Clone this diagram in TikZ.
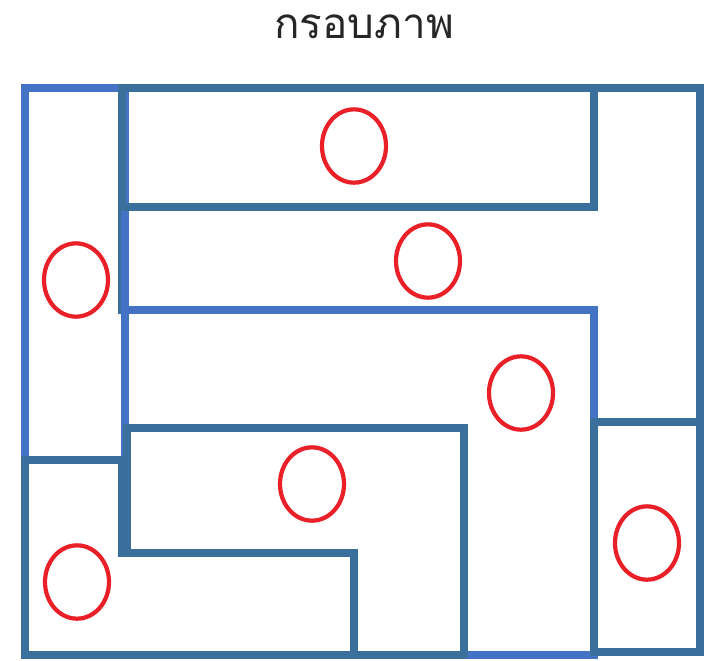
\documentclass[tikz,border=0pt]{standalone}
\usepackage{fontspec}
\newfontfamily\thaifont[Script=Thai]{Loma}
\usetikzlibrary{shapes.geometric}
\definecolor{frdark}{RGB}{60,112,156}
\definecolor{frlight}{RGB}{68,114,196}
\definecolor{ovred}{RGB}{234,32,40}
\begin{document}
\begin{tikzpicture}[x=0.03cm, y=-0.03cm,
  pd/.style={draw=frdark, line width=6.2pt},
  pl/.style={draw=frlight, line width=6.2pt},
  ov/.style={ellipse, draw=ovred, line width=3.6pt,
             minimum width=1.92cm, minimum height=2.2cm, inner sep=0pt}
]
\useasboundingbox (0,0) rectangle (704,660);
\node[font=\thaifont\fontsize{36}{40}\selectfont, text=black!85] (title) at (364,27) {กรอบภาพ};
% frame pieces
\draw[pd] (122,207) -- (594,207) -- (594,88) -- (700,88) -- (700,422)
  -- (594,422) -- (594,310) -- (122,310) -- cycle;
\draw[pl] (25,88) rectangle (125,460);
\draw[pd] (122,88) rectangle (594,207);
\draw[pl] (125,310) -- (594,310) -- (594,655) -- (464,655) -- (464,428)
  -- (125,428) -- cycle;
\draw[pd] (127,428) -- (464,428) -- (464,655) -- (354,655) -- (354,553)
  -- (127,553) -- cycle;
\draw[pd] (25,460) -- (122,460) -- (122,553) -- (354,553) -- (354,655)
  -- (25,655) -- cycle;
\draw[pd] (594,422) rectangle (700,652);
% ovals
\node[ov] (o1) at (354,146) {};
\node[ov] (o2) at (428,261) {};
\node[ov] (o3) at (76,280) {};
\node[ov] (o4) at (521,393) {};
\node[ov] (o5) at (312,484) {};
\node[ov] (o6) at (77,582) {};
\node[ov] (o7) at (647,543) {};
\end{tikzpicture}
\end{document}
